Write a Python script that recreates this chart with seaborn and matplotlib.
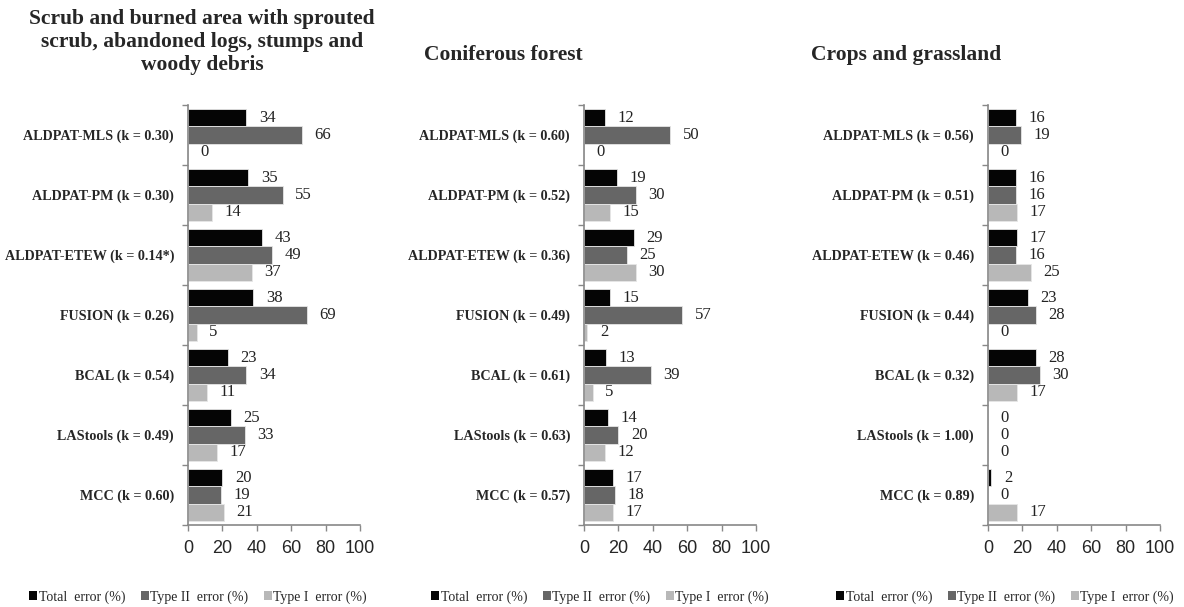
import numpy as np
import pandas as pd
import matplotlib
matplotlib.use("Agg")
import matplotlib.pyplot as plt
from matplotlib.patches import Patch
import seaborn as sns

methods = ["ALDPAT-MLS", "ALDPAT-PM", "ALDPAT-ETEW", "FUSION", "BCAL", "LAStools", "MCC"]
series = ["Total  error (%)", "Type II  error (%)", "Type I  error (%)"]

scrub_k = ["0.30", "0.30", "0.14*", "0.26", "0.54", "0.49", "0.60"]
scrub_total = [34, 35, 43, 38, 23, 25, 20]
scrub_type2 = [66, 55, 49, 69, 34, 33, 19]
scrub_type1 = [0, 14, 37, 5, 11, 17, 21]

conif_k = ["0.60", "0.52", "0.36", "0.49", "0.61", "0.63", "0.57"]
conif_total = [12, 19, 29, 15, 13, 14, 17]
conif_type2 = [50, 30, 25, 57, 39, 20, 18]
conif_type1 = [0, 15, 30, 2, 5, 12, 17]

crops_k = ["0.56", "0.51", "0.46", "0.44", "0.32", "1.00", "0.89"]
crops_total = [16, 16, 17, 23, 28, 0, 2]
crops_type2 = [19, 16, 16, 28, 30, 0, 0]
crops_type1 = [0, 17, 25, 0, 17, 0, 17]

titles = ["Scrub and burned area with sprouted\nscrub, abandoned logs, stumps and\nwoody debris",
          "Coniferous forest", "Crops and grassland"]
xticks = [0, 20, 40, 60, 80, 100]

colors = ["#050505", "#666666", "#b8b8b8"]

sns.set_theme(style="white")
plt.rcParams["font.family"] = ["Liberation Serif", "DejaVu Serif"]

fig = plt.figure(figsize=(11.84, 6.07), dpi=100)

panels = [
    (scrub_k, scrub_total, scrub_type2, scrub_type1),
    (conif_k, conif_total, conif_type2, conif_type1),
    (crops_k, crops_total, crops_type2, crops_type1),
]
ax_lefts = [188, 584, 988]
ax_width = 172
title_x = [202, 503, 906]
legend_x = [198, 600, 1005]

for i, (ks, tot, t2, t1) in enumerate(panels):
    labels = [f"{m} (k = {k})" for m, k in zip(methods, ks)]
    df = pd.DataFrame({
        "method": labels * 3,
        "series": np.repeat(series, len(labels)),
        "value": tot + t2 + t1,
    })
    ax = fig.add_axes([ax_lefts[i] / 1184, 1 - 525 / 607, ax_width / 1184, 420 / 607])
    sns.barplot(data=df, y="method", x="value", hue="series", hue_order=series,
                order=labels, palette=colors, orient="h", width=0.87,
                edgecolor="#e6e6e6", linewidth=0.6, ax=ax, legend=False)
    for cont in ax.containers:
        ax.bar_label(cont, fmt="%d", padding=9, fontsize=12, color="#222222")
    ax.set_xlim(0, 100)
    ax.set_ylim(6.5, -0.5)
    ax.set_xticks(xticks)
    ax.set_xticklabels([str(v) for v in xticks], family="Liberation Sans", fontsize=13)
    ax.set_xlabel("")
    ax.set_ylabel("")
    ax.set_yticks(range(len(labels)))
    ax.set_yticklabels(labels, fontweight="bold", fontsize=10.2)
    ax.set_yticks(np.arange(-0.5, 7, 1), minor=True)
    ax.tick_params(axis="y", which="major", length=0, pad=10)
    ax.tick_params(axis="y", which="minor", left=True, length=4, width=1, color="#888888")
    ax.tick_params(axis="x", which="major", bottom=True, length=4, width=1, color="#888888", pad=7)
    for s in ["top", "right"]:
        ax.spines[s].set_visible(False)
    for s in ["left", "bottom"]:
        ax.spines[s].set_color("#888888")
        ax.spines[s].set_linewidth(1.2)

    if i == 0:
        fig.text(title_x[i] / 1184, 1 - 9 / 607, titles[i], ha="center", va="top",
                 fontsize=15.5, fontweight="bold", linespacing=1.2)
    else:
        fig.text(title_x[i] / 1184, 1 - 55 / 607, titles[i], ha="center", va="center",
                 fontsize=15.5, fontweight="bold")

    handles = [Patch(facecolor=c, edgecolor="none") for c in colors]
    fig.legend(handles, series, loc="center", bbox_to_anchor=(legend_x[i] / 1184, 1 - 597 / 607),
               ncol=3, frameon=False, fontsize=10, handlelength=0.6, handleheight=0.6,
               handletextpad=0.1, columnspacing=1.1)

fig.savefig("out.png", dpi=100)
